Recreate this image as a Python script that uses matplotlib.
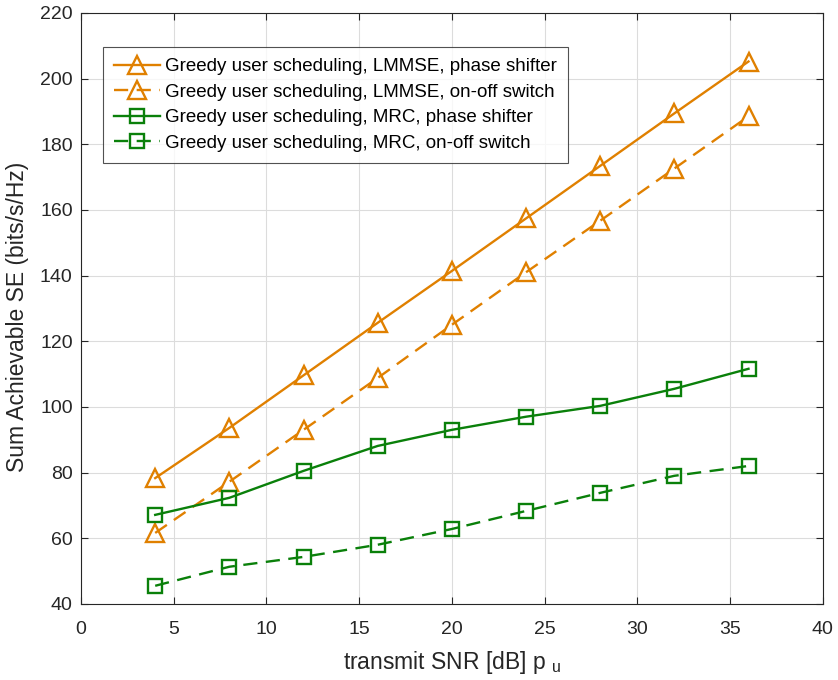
import matplotlib
matplotlib.use("Agg")
import matplotlib.pyplot as plt

plt.rcParams['font.family'] = ['Liberation Sans', 'DejaVu Sans']
plt.rcParams['mathtext.fontset'] = 'custom'
plt.rcParams['mathtext.rm'] = 'Liberation Sans'
plt.rcParams['mathtext.it'] = 'Liberation Sans'

snr = [4, 8, 12, 16, 20, 24, 28, 32, 36]
lmmse_ps = [78.3, 93.6, 109.6, 125.6, 141.4, 157.4, 173.4, 189.4, 205.2]
lmmse_oo = [61.6, 77.2, 93.0, 108.8, 125.0, 141.0, 156.7, 172.6, 188.5]
mrc_ps = [67.1, 72.3, 80.5, 88.1, 93.0, 97.0, 100.3, 105.5, 111.6]
mrc_oo = [45.5, 51.3, 54.3, 58.0, 62.8, 68.3, 73.8, 79.0, 82.0]

labels = ["Greedy user scheduling, LMMSE, phase shifter",
          "Greedy user scheduling, LMMSE, on-off switch",
          "Greedy user scheduling, MRC, phase shifter",
          "Greedy user scheduling, MRC, on-off switch"]

orange = '#E08000'
green = '#0A800A'
dark = '#262626'

fig = plt.figure(figsize=(8.38, 6.8), dpi=100)
ax = fig.add_axes([0.0967, 0.112, 0.885, 0.869])

lw = 1.7
ax.plot(snr, lmmse_ps, '-', color=orange, lw=lw, marker='^', ms=12.5, mfc='none', mew=lw, label=labels[0])
ax.plot(snr, lmmse_oo, '--', color=orange, lw=lw, marker='^', ms=12.5, mfc='none', mew=lw, dashes=(6, 3.6), label=labels[1])
ax.plot(snr, mrc_ps, '-', color=green, lw=lw, marker='s', ms=10, mfc='none', mew=lw, label=labels[2])
ax.plot(snr, mrc_oo, '--', color=green, lw=lw, marker='s', ms=10, mfc='none', mew=lw, dashes=(6, 3.6), label=labels[3])

ax.set_xlim(0, 40)
ax.set_ylim(40, 220)
ax.set_xticks(range(0, 41, 5))
ax.set_yticks(range(40, 221, 20))
ax.grid(True, color='#DCDCDC', lw=0.8)
ax.set_axisbelow(True)
ax.tick_params(direction='in', labelsize=14, top=True, right=True, length=5, color=dark, labelcolor=dark)
ax.tick_params(axis='x', pad=12)
ax.tick_params(axis='y', pad=6)
for s in ax.spines.values():
    s.set_color(dark)
    s.set_linewidth(0.8)

ax.set_xlabel('transmit SNR [dB] p $_{\\mathrm{u}}$', fontsize=16.5, color=dark, va='center')
ax.xaxis.set_label_coords(0.5, -0.1)
ax.set_ylabel('Sum Achievable SE (bits/s/Hz)', fontsize=16.5, color=dark, va='center')
ax.yaxis.set_label_coords(-0.086, 0.485)

leg = ax.legend(loc='upper left', bbox_to_anchor=(0.029, 0.9425), fontsize=13.5, frameon=True,
                fancybox=False, edgecolor=dark, handlelength=2.45, borderpad=0.6,
                labelspacing=0.45, handletextpad=0.3, borderaxespad=0)
leg.get_frame().set_linewidth(0.8)

fig.savefig('out.png', dpi=100)
